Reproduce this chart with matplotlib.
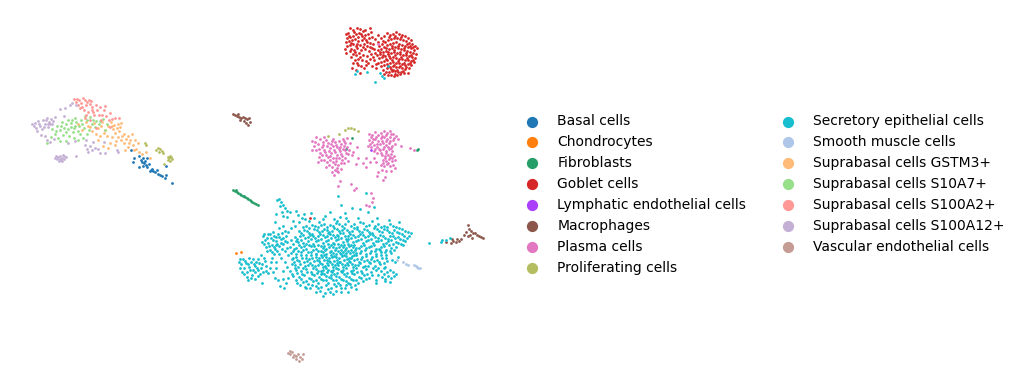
import matplotlib
matplotlib.use('Agg')
import matplotlib.pyplot as plt

# positions (same scale as the image)
basal = [(131,150),(134,158),(133,162),(139,156),(141,160),(143,158),(144,163),(145,161),(146,165),(147,167),(143,166),(149,164),(151,170),(152,169),(150,171),(153,171),(155,172),(157,170),(158,174),(160,175),(162,176),(165,178),(172,183),(166,166),(166,175),(139,167),(147,158),(142,162)]
chondro = [(236,253),(241,252)]
fibro = [(233,190),(235,191),(236,190),(237,192),(238,193),(240,194),(241,195),(243,196),(244,196),(245,197),(247,198),(248,199),(250,200),(251,201),(252,202),(254,203),(256,204),(258,205),(346,149),(417,150),(418,149),(352,138)]
goblet = [(346,34),(348,33),(350,28),(353,30),(357,28),(360,29),(363,31),(365,30),(347,38),(350,37),(353,36),(356,34),(359,33),(362,36),(365,35),(368,34),(371,32),(346,42),(349,41),(352,40),(355,39),(358,41),(362,40),(366,40),(369,38),(372,37),(375,39),(350,45),(353,44),(356,46),(360,45),(364,44),(367,46),(370,43),(373,44),(351,49),(354,50),(357,48),(361,50),(365,49),(369,51),(372,48),(345,49),(346,53),(353,54),(356,55),(359,53),(363,55),(367,56),(371,54),(375,53),(355,60),(358,59),(362,60),(366,61),(370,59),(374,60),(353,63),(358,65),(361,66),(366,65),(372,66),(376,64),(352,68),(356,70),(360,73),
(378,42),(381,38),(384,36),(387,33),(390,35),(393,34),(396,32),(399,34),(402,35),(405,36),(408,38),(411,40),(379,46),(382,44),(385,42),(388,40),(391,39),(394,38),(397,38),(400,39),(403,40),(406,41),(409,43),(412,44),(415,46),(378,50),(381,49),(384,47),(387,45),(390,44),(393,43),(396,42),(399,44),(402,45),(405,46),(408,47),(411,48),(414,50),(417,48),(377,55),(380,54),(383,52),(386,51),(389,49),(392,48),(395,47),(398,48),(401,49),(404,50),(407,51),(410,52),(413,53),(416,54),(379,58),(382,57),(385,56),(388,54),(391,53),(394,52),(397,53),(400,54),(403,55),(406,55),(409,56),(412,57),(415,58),(381,62),(384,61),(387,60),(390,58),(393,57),(396,58),(399,59),(402,59),(405,60),(408,60),(411,61),(414,62),(384,65),(387,64),(390,63),(393,62),(396,63),(399,63),(402,64),(405,65),(408,64),(411,65),(387,68),(390,67),(393,66),(396,67),(399,67),(402,68),(405,69),(409,68),(389,72),(392,71),(395,71),(398,72),(401,72),(404,73),(391,75),(394,76),(397,75),(400,74),(393,70),(386,72),(383,70),(378,63),(376,68),(408,73),(310,218),
(349,35.5),(354.5,32),(361,33.5),(351.5,42.5),(357,43.5),(363,47),(347.5,46),(355.5,51.5),(367,41.5),(370.5,46.5),(358.5,37),(364.5,38),(374,48.5),(350,51),(360,57),(368,63),(364,68),(357,62.5),(373,56.5),(389.5,37),(395,36),(401,37),(407,44),(383,41),(380,51.5),(386,48),(392,45.5),(398,45.5),(404,47.5),(410,45.5),(413,47),(388.5,51.5),(394.5,49.5),(400.5,51.5),(406,53),(411.5,54.5),(383.5,54.5),(389.5,56),(395.5,55),(401.5,57),(407,58),(413,60),(386.5,58.5),(392,60),(398,61),(404,62.5),(410,63),(388.5,65.5),(394.5,64.5),(400.5,65.5),(406.5,67),(391,69),(397,69.5),(403,70.5),(395,73.5),(388,75),(378,35),(370,28),(351,57),(381,66),(384,74)]
lymph = [(371,150)]
macro = [(233,114),(235,115),(237,116),(239,117),(241,118),(243,117),(245,118),(247,119),(249,118),(240,120),(244,121),(246,123),(248,125),(238,114),(250,122),
(451,243),(453,241),(456,242),(457,239),(459,241),(461,239),(452,239),(464,235),(466,232),(468,225),(469,229),(471,231),(473,233),(475,233),(477,235),(479,236),(481,237),(483,238),(470,235),(472,238),(468,236),(446,242)]
plasma = [(312,141),(314,146),(316,150),(318,144),(320,153),(322,147),(323,142),(326,140),(327,146),(329,151),(331,144),(333,139),(335,142),(337,147),(339,141),(341,144),(343,139),(345,143),(347,147),(350,143),(319,157),(322,155),(325,152),(328,157),(331,153),(334,150),(337,155),(340,151),(343,149),(346,153),(349,150),(318,162),(324,160),(327,162),(330,160),(333,158),(336,161),(339,158),(342,156),(345,158),(352,155),(329,165),(332,167),(335,164),(338,165),(341,163),(344,163),(348,161),(332,172),(335,170),(338,172),(341,169),(334,175),(337,171),(312,150),(326,167),(316,137),(353,152),(357,147),(356,164),(358,158),(363,163),
(369,134),(372,135),(375,132),(378,135),(381,133),(384,131),(387,133),(390,131),(393,134),(396,136),(398,139),(369,140),(372,142),(375,139),(378,141),(381,138),(384,137),(387,139),(390,137),(393,140),(368,146),(371,147),(374,145),(377,147),(380,144),(383,143),(386,145),(389,143),(392,146),(395,144),(374,151),(377,153),(380,150),(383,149),(386,151),(389,149),(392,151),(382,155),(385,156),(388,155),(391,154),(394,156),(383,160),(386,161),(389,159),(392,161),(395,160),(381,165),(384,166),(387,164),(390,166),(393,165),(382,170),(386,171),(391,171),(395,168),(366,158),(370,162),(374,158),(376,162),(378,172),(401,146),(410,148),(414,150),
(340,181),(338,186),(351,184),(354,190),(356,188),(366,205),(369,206),(372,202),(373,198),(371,193),(377,176),(383,180),(385,177),(366,167),(378,44),
(320,139),(324,137),(328,143),(332,141),(336,144.5),(340,147),(344,146),(315,142),(319,149),(324,150),(330,148),(335,152),(339,149),(333,146),(326,155),(330,155.5),(336,158),(341,154),(345,150),(348,154),(323,145),(344,141),(321,160),(333,162),(337,168),(342,160),(347,138),(371,137),(376,136.5),(382,135.5),(386,135),(391,134),(394,138),(373,139),(377,143.5),(382,141),(386,141),(390,140.5),(370,144),(375,149),(379,149),(384,147),(388,147),(391,148),(381,153),(386,153),(390,157),(385,158),(388,163),(383,163),(392,158)]
prolif = [(145,143),(146,145),(156,150),(158,148),(160,149),(162,151),(163,153),(159,152),(164,164),(168,160),(169,158),(170,156),(171,157),(172,159),(170,161),(168,157),(345,130),(348,128),(351,128),(354,129),(358,131),(339,134),(328,136)]
secretory = [(279,199),(277,200),(281,202),(283,205),(285,208),(290,212),(296,211),(282,212),(298,215),(304,214),(287,217),(276,214),(305,219),(311,213),(325,216),(330,212),(345,213),(341,205),(338,196),(366,193),(352,208),(360,209),(368,212),(374,207),(340,217),(334,219),(319,222),(314,218),(299,222),(293,221),(283,226),(273,232),(268,234),(263,236),(265,240),(268,243),(271,238),(274,236),(278,234),(282,233),(286,236),(281,239),(276,241),(272,245),(266,247),(270,250),(275,249),(279,246),(283,244),(287,242),(290,247),(285,251),(279,254),(274,254),(262,242),(288,255),(293,258),
(239,262),(240,268),(243,259),(246,263),(244,268),(247,272),(249,258),(251,262),(249,267),(253,270),(252,275),(256,262),(255,266),(258,259),(258,270),(260,274),(262,264),(264,258),(261,255),(266,266),(268,273),(247,277),(255,279),(262,283),(272,258),(283,271),(285,262),(275,278),(278,280),(273,272),(288,278),(280,286),(284,288),(295,268),
(306,226),(312,225),(318,227),(324,224),(330,225),(336,223),(342,226),(348,221),(354,224),(360,222),(366,226),(372,221),(378,224),(384,226),(390,224),(396,227),(402,229),(408,232),
(299,231),(304,230),(309,233),(314,229),(319,232),(324,229),(329,232),(334,228),(339,231),(344,228),(349,232),(354,228),(359,231),(364,229),(369,232),(374,228),(379,231),(384,229),(389,232),(394,230),(399,233),(404,236),(409,236),
(295,237),(300,236),(305,238),(310,235),(315,238),(320,234),(325,237),(330,234),(335,237),(340,233),(345,236),(350,234),(355,237),(360,234),(365,237),(370,234),(375,237),(380,235),(385,238),(390,236),(395,238),(400,239),(405,241),
(293,244),(298,242),(303,243),(308,241),(313,244),(318,240),(323,243),(328,240),(333,243),(338,239),(343,242),(348,239),(353,242),(358,240),(363,243),(368,240),(373,243),(378,241),(383,244),(388,241),(393,244),(398,243),(403,245),(301,240),(311,239),(331,238),(341,238),(351,238),(327,236),(337,235),(347,241),
(296,248),(301,247),(306,249),(311,246),(316,249),(321,246),(326,249),(331,245),(336,248),(341,245),(346,248),(351,245),(356,248),(361,246),(366,248),(371,246),(376,249),(381,247),(386,250),(391,248),(396,247),(323,248),(333,247),(343,247),(353,247),(318,245),(328,244),(338,244),(348,244),
(291,253),(296,254),(301,252),(306,255),(311,252),(316,254),(321,251),(326,254),(331,251),(336,254),(341,250),(346,253),(351,250),(356,253),(361,251),(366,254),(371,251),(376,254),(381,252),(386,255),(391,253),(313,250),(323,252),(333,253),(343,252),(353,252),(338,251),(348,251),
(292,259),(297,260),(302,258),(307,261),(312,258),(317,260),(322,257),(327,260),(332,257),(337,260),(342,256),(347,259),(352,256),(357,259),(362,257),(367,260),(372,257),(377,260),(382,258),(387,261),(392,260),(319,258),(329,258),(339,258),(349,258),(324,255),(334,256),(344,255),(354,255),
(295,265),(300,264),(305,266),(310,263),(315,266),(320,263),(325,266),(330,262),(335,265),(340,262),(345,265),(350,262),(355,265),(360,263),(365,266),(370,263),(375,266),(380,264),(385,267),(322,264),(332,264),(342,264),(352,264),(327,263),(337,263),(347,263),(312,265),
(290,271),(296,270),(301,271),(306,269),(311,272),(316,269),(321,271),(326,268),(331,271),(336,268),(341,271),(346,268),(351,271),(356,268),(361,271),(366,269),(371,272),(376,270),(323,270),(333,270),(343,270),(353,270),(318,271),(328,270),(338,269),
(293,276),(299,277),(304,275),(309,278),(314,275),(319,277),(324,274),(329,277),(334,274),(339,277),(344,274),(349,277),(354,274),(359,277),(364,275),(369,278),(326,276),(336,276),(346,276),(321,274),(331,275),
(297,283),(303,282),(308,284),(313,281),(318,283),(323,280),(328,283),(333,280),(338,283),(343,280),(348,283),(353,280),(358,283),(363,281),(316,286),(321,287),(326,285),(331,288),(336,286),(341,288),(346,285),(351,287),(356,289),(310,288),(305,287),(320,291),(325,293),(330,292),(323,296),(336,291),(348,292),
(381,271),(384,274),(387,272),(390,270),(393,272),(382,277),(385,279),(388,276),(391,278),(394,276),(385,281),(390,282),(396,274),(378,275),(376,283),
(429,243),(441,242),(442,240),(446,240),(450,238),(380,73),(382,76),(375,82),(384,78),(355,74),(357,71),(367,72),(388,66),(316,254),(283,216),(276,245),(376,280),(384,268),(395,262),(398,257)]
secretory_fill = [(303,227),(309,228),(315,226),(321,225),(327,227),(333,226),(339,224),(345,224),(351,226),(357,227),(363,223),(369,225),(375,226),(381,227),(387,227),(393,226),(399,228),(405,231),(411,233),
(301,233),(307,231),(312,234),(317,230),(322,231),(327,230),(332,231),(337,229),(342,230),(347,230),(352,231),(357,229),(362,232),(367,230),(372,233),(377,229),(382,232),(387,230),(392,233),(397,232),(402,234),(407,238),
(297,239),(303,235),(308,237),(313,236),(318,236),(323,235),(328,233),(333,235),(338,236),(343,233),(348,236),(353,235),(358,236),(363,235),(368,236),(373,235),(378,238),(383,236),(388,239),(393,236),(398,237),(403,240),
(296,241),(306,244),(316,241),(321,239),(326,241),(336,240),(346,239),(356,241),(361,239),(366,241),(371,239),(376,241),(381,240),(386,243),(391,240),(396,242),(401,244),(294,249),(299,245),(304,246),(309,245),(314,246),(324,246),(329,247),(334,244),(339,247),(344,245),(349,246),(354,245),(359,248),(364,245),(369,247),(374,245),(379,249),(384,246),(389,245),(394,250),
(293,251),(298,251),(303,250),(308,252),(318,251),(325,250),(330,252),(335,250),(340,253),(345,250),(350,253),(355,250),(360,253),(365,250),(370,253),(375,251),(380,250),(385,252),(390,251),(296,257),(301,255),(306,258),(311,255),(316,257),(321,255),(326,257),(331,255),(336,257),(341,254),(346,256),(351,258),(356,255),(361,259),(366,256),(371,259),(376,256),(381,255),(386,258),
(294,262),(299,261),(304,262),(309,259),(314,261),(319,261),(324,260),(329,261),(334,261),(339,262),(344,260),(349,261),(354,260),(359,262),(364,261),(369,262),(374,261),(379,262),(384,263),(298,267),(303,268),(308,265),(313,268),(318,265),(323,267),(328,265),(333,267),(338,265),(343,267),(348,265),(353,267),(358,265),(363,267),(368,266),(373,268),(378,268),
(292,274),(297,273),(302,274),(307,272),(312,274),(317,273),(322,273),(327,272),(332,272),(337,273),(342,272),(347,273),(352,273),(357,272),(362,273),(367,274),(372,275),(296,280),(301,279),(306,281),(311,279),(316,280),(321,279),(326,280),(331,278),(336,280),(341,279),(346,281),(351,279),(356,280),(361,278),(366,279),(300,285),(306,288),(312,285),(318,288),(328,289),(334,284),(340,285),(345,288),(350,284),(355,285),(316,292),(333,294),(341,292),
(241,264),(242,272),(245,261),(248,264),(250,270),(253,259),(254,264),(257,268),(251,278),(255,272),(259,263),(261,268),(263,272),(265,261),(240,259),(244,274),(248,280),(258,276),(266,271),(271,262),(270,268),(276,262),(281,258),(292,264),(287,267),(283,279),(286,283),(276,268),
(264,234),(267,238),(270,234),(273,240),(276,237),(279,237),(283,238),(285,241),(281,243),(277,244),(274,247),(269,246),(264,244),(267,251),(272,252),(277,251),(282,249),(287,248),(288,232),(291,228),(291,240),(285,231),(279,228),(275,222),(295,226),(302,218),(309,221),(323,219),(337,221),(346,218),(358,218),(377,218),(389,220),(399,222),(280,206),(287,211)]
smooth = [(397,260),(403,262),(406,264),(408,265),(414,265),(416,266),(418,268),(420,268),(417,267)]
gstm3 = [(78,124),(82,130),(86,122),(90,127),(94,123),(98,128),(102,122),(105,130),(96,134),(100,136),(104,133),(108,126),(111,122),(114,125),(117,128),(119,131),(115,133),(112,137),(118,137),(121,140),(124,143),(128,136),(124,134),(130,140),(133,145),(128,147),(125,150),(115,145),(110,143),(108,148),(136,149),(139,152),(142,154),(146,152),(150,158),(138,143),(120,127),(132,134),(121,123),(92,131),(101,126),(107,136),(113,129),(116,141),(122,136),(126,139),(129,143),(134,150),(112,126),(118,124),(98,140),(103,146),(135,140),(88,126)]
s10a7 = [(51,137),(55,134),(58,138),(60,130),(63,135),(57,126),(62,122),(66,124),(68,129),(71,127),(69,136),(73,132),(76,122),(79,126),(81,120),(84,128),(87,134),(83,138),(78,140),(92,124),(96,121),(99,124),(103,119),(107,124),(105,130),(75,118),(66,141),(87,120),(52,129),(47,143),(89,130),(74,138),(72,120),(60,141),(64,128),(68,120),(75,126),(78,131),(71,123),(82,124),(85,116),(93,120),(100,121),(95,127),(56,131),(66,132),(61,126),(80,134),(74,128),(90,117)]
s100a2 = [(74,99),(76,102),(79,100),(81,103),(83,98),(85,100),(87,102),(89,100),(78,105),(82,107),(86,105),(90,104),(92,107),(96,105),(100,107),(105,106),(84,110),(88,112),(92,110),(86,115),(94,115),(99,115),(110,113),(115,118),(109,120),(101,120),(110,127),(119,118),(85,118),(96,128),(80,108),(77,99),(91,101),(93,112),(104,110),(97,110),(106,116),(112,119),(90,120),(102,115)]
s100a12 = [(32,124),(35,123),(38,121),(40,126),(43,120),(45,124),(47,118),(49,122),(51,119),(53,121),(36,128),(42,129),(48,127),(55,117),(64,116),(65,108),(72,103),(76,105),(37,131),(41,135),(45,136),(50,142),(54,139),(47,140),(60,109),
(55,158),(56,156),(58,157),(60,159),(61,160),(62,158),(63,155),(64,156),(66,157),(59,161),(62,161),(85,145),(87,149),(90,146),(88,152),(92,150),(95,148),(98,149),(100,153),(104,142),(105,153),(118,152),(117,150),(76,156),(75,141),(68,143),(46,120),(48,124),(50,124),(44,127),(52,124),(39,124),(34,126),(57,159),(60,156),(64,159),(70,105),(86,140),(93,142)]
vascular = [(288,353),(290,354),(292,352),(294,355),(296,356),(298,354),(300,357),(302,359),(299,361),(296,359),(293,357),(303,354),(290,351)]

categories = ['Basal cells', 'Chondrocytes', 'Fibroblasts', 'Goblet cells', 'Lymphatic endothelial cells',
              'Macrophages', 'Plasma cells', 'Proliferating cells', 'Secretory epithelial cells',
              'Smooth muscle cells', 'Suprabasal cells GSTM3+', 'Suprabasal cells S10A7+',
              'Suprabasal cells S100A2+', 'Suprabasal cells S100A12+', 'Vascular endothelial cells']
colors = ['#1f77b4', '#ff7f0e', '#279e68', '#d62728', '#aa40fc', '#8c564b', '#e377c2', '#b5bd61',
          '#17becf', '#aec7e8', '#ffbb78', '#98df8a', '#ff9896', '#c5b0d5', '#c49c94']
groups = [basal, chondro, fibro, goblet, lymph, macro, plasma, prolif, secretory + secretory_fill, smooth,
          gstm3, s10a7, s100a2, s100a12, vascular]

fig = plt.figure(figsize=(10.2, 3.89), dpi=100)
ax = fig.add_axes([0, 0, 506/1020, 1])
for pts, c, name in zip(groups, colors, categories):
    ax.scatter([p[0] for p in pts], [p[1] for p in pts], s=4, c=c, linewidths=0)
    ax.scatter([], [], s=50, c=c, label=name)
ax.set_xlim(0, 506)
ax.set_ylim(389, 0)
ax.axis('off')
ax.legend(loc='center left', bbox_to_anchor=(1, 0.5), ncol=2, frameon=False, fontsize=10)
fig.savefig('out.png', dpi=100)
